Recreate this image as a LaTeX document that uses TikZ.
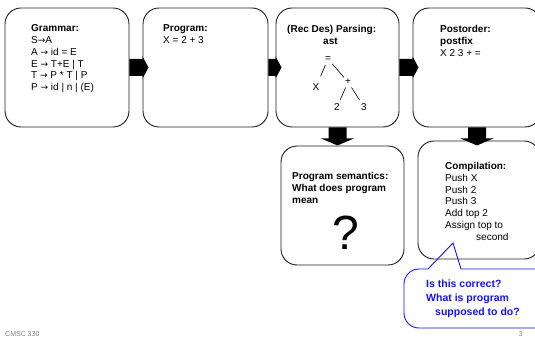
\documentclass[tikz,border=0pt]{standalone}
\usepackage{fontspec}
\setmainfont{Liberation Sans}
\newfontfamily\arrowfont{DejaVu Sans}
\newcommand{\prodarrow}{{\arrowfont\fontsize{9}{11.8}\selectfont →}}
\usetikzlibrary{calc,positioning}
\definecolor{noteblue}{RGB}{20,20,235}
\definecolor{boxline}{RGB}{30,30,30}
\tikzset{
  stagebox/.style={draw=boxline,line width=0.9pt,rounded corners=16pt,inner sep=0pt},
  stagetext/.style={anchor=north west,inner sep=0pt,align=left,font=\fontsize{10}{11.8}\selectfont},
  treelab/.style={inner sep=1.5pt,font=\fontsize{10}{12}\selectfont},
  treeedge/.style={draw,line width=0.6pt},
  flowarrow/.style={fill=black},
  notebox/.style={draw=noteblue,line width=0.9pt},
  notetext/.style={anchor=north west,inner sep=0pt,align=left,text=noteblue,font=\fontsize{10.5}{14}\bfseries\selectfont},
  footer/.style={inner sep=0pt,text=gray,font=\fontsize{7}{8}\selectfont}
}
\newcommand{\rightblock}[2]{%
  \fill[flowarrow] ($(#1.east)+(0,-8.5)$) -- ($(#2.west)+(0,-8.5)$) -- ($(#2.west)+(0,-11)$)
    -- ($(#2.west)+(6,0)$) -- ($(#2.west)+(0,11)$) -- ($(#2.west)+(0,8.5)$)
    -- ($(#1.east)+(0,8.5)$) -- cycle;}
\newcommand{\downblock}[1]{%
  \fill[flowarrow] ($(#1.south)+(-9,0)$) -- ($(#1.south)+(-9,11)$) -- ($(#1.south)+(-16.5,11)$)
    -- ($(#1.south)+(0,18)$) -- ($(#1.south)+(16.5,11)$) -- ($(#1.south)+(9,11)$)
    -- ($(#1.south)+(9,0)$) -- cycle;}

\begin{document}
\begin{tikzpicture}[x=1pt,y=-1pt]
  \useasboundingbox (0,0) rectangle (535,339);

  \node[stagebox,minimum width=124pt,minimum height=119pt] (gram) at (67,67.5) {};
  \node[stagebox,minimum width=125pt,minimum height=119pt] (prog) at (205.5,67.5) {};
  \node[stagebox,minimum width=123pt,minimum height=119pt] (pars) at (337.5,67.5) {};
  \node[stagebox,minimum width=128pt,minimum height=119pt] (post) at (477,67.5) {};
  \node[stagebox,minimum width=123pt,minimum height=119pt] (sem) at (342.5,205.5) {};
  \node[stagebox,minimum width=122pt,minimum height=118pt] (comp) at (479,200) {};

  % stage texts
  \node[stagetext] (gramtext) at (31,24.5) {\textbf{Grammar:}\\
    S\prodarrow A\\
    A \prodarrow{} id = E\\
    E \prodarrow{} T+E | T\\
    T \prodarrow{} P * T | P\\
    P \prodarrow{} id | n | (E)};
  \node[stagetext] (progtext) at (163,24.5) {\textbf{Program:}\\ X = 2 + 3};
  \node[stagetext] (parstext) at (287,25) {\textbf{(Rec Des) Parsing:}\\
    \hspace*{36pt}\textbf{ast}};
  \node[stagetext] (posttext) at (440,25) {\textbf{Postorder:}\\ \textbf{postfix}\\ X 2 3 + =};
  \node[stagetext] (semtext) at (292,172) {\textbf{Program semantics:}\\
    \textbf{What does program}\\ \textbf{mean}};
  \node[font=\fontsize{48}{48}\selectfont,inner sep=0pt] (quest) at (346,233) {?};
  \node[stagetext] (comptext) at (445,162) {\textbf{Compilation:}\\
    Push X\\ Push 2\\ Push 3\\ Add top 2\\ Assign top to\\ \hspace*{31pt}second};

  % ast
  \node[treelab] (eq) at (328,59) {=};
  \node[treelab] (xv) at (316,87) {X};
  \node[treelab] (plus) at (348,82) {+};
  \node[treelab] (two) at (337,107) {2};
  \node[treelab] (three) at (364,107) {3};
  \draw[treeedge,shorten <=2pt,shorten >=6pt] (eq) -- (xv);
  \draw[treeedge,shorten <=1pt] (eq) -- (plus);
  \draw[treeedge,shorten <=1pt,shorten >=2pt] (plus) -- (two);
  \draw[treeedge,shorten <=1pt,shorten >=2pt] (plus) -- (three);

  % flow
  \rightblock{gram}{prog}
  \rightblock{prog}{pars}
  \rightblock{pars}{post}
  \downblock{pars}
  \downblock{post}

  % remark
  \coordinate (tipbase1) at (428,269);
  \coordinate (tip) at (453,243);
  \coordinate (tipbase2) at (461,269);
  \draw[notebox] (tipbase1) -- (tip) -- (tipbase2)
    {[rounded corners=15pt] -- (552,269) -- (552,328) -- (404,328) -- (404,269)} -- cycle;
  \node[notetext] (note) at (426,280) {Is this correct?\\ What is program\\
    \hspace*{9pt}supposed to do?};

  \node[footer,anchor=north west] (course) at (5,331) {CMSC 330};
  \node[footer,anchor=north east] (page) at (523,331) {3};
\end{tikzpicture}
\end{document}
